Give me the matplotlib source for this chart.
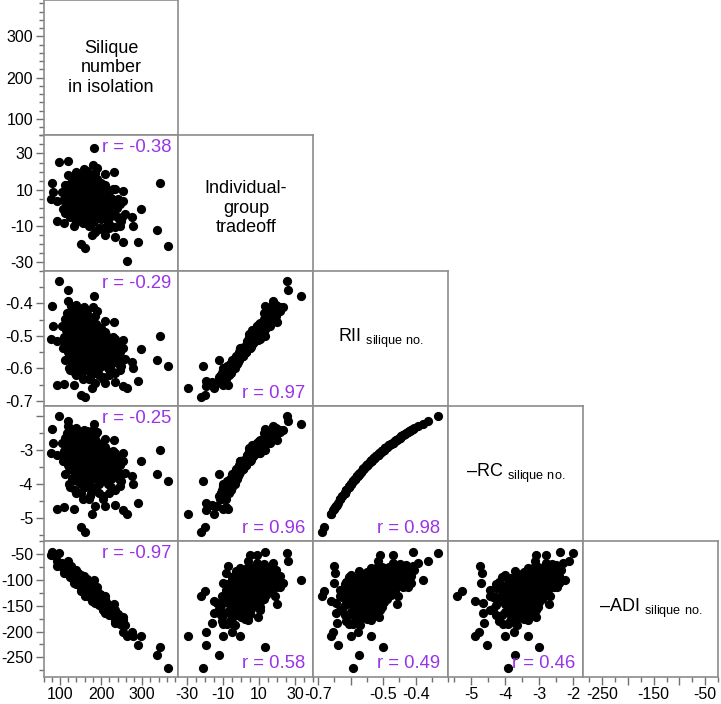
import matplotlib
matplotlib.use("Agg")
import matplotlib.pyplot as plt
from matplotlib.ticker import FixedLocator, FixedFormatter, MultipleLocator

plt.rcParams["font.family"] = ["Liberation Sans", "DejaVu Sans"]
plt.rcParams["mathtext.fontset"] = "custom"
plt.rcParams["mathtext.rm"] = "Liberation Sans"
plt.rcParams["axes.unicode_minus"] = False

# one value per plant (core cloud + visible outliers)
silique = [106, 108, 110, 112, 113, 115, 116, 118, 119, 120, 121, 122, 124, 125, 126, 127, 128, 129, 130, 130,
           131, 132, 133, 134, 135, 136, 137, 138, 139, 140, 141, 142, 143, 144, 145, 146, 147, 148, 149, 150,
           151, 152, 153, 154, 155, 156, 157, 158, 159, 160,
           161, 162, 163, 164, 165, 166, 167, 168, 169, 170, 171, 172, 173, 174, 175, 176, 177, 178, 179, 180,
           181, 182, 183, 184, 185, 186, 187, 188, 189, 190,
           191, 192, 193, 194, 195, 196, 197, 198, 199, 200, 202, 204, 205, 207, 208, 210, 212, 214, 216, 218, 220,
           222, 224, 226, 228, 230, 232, 235, 238, 240, 243, 246, 250, 254,
           138, 145, 152, 158, 163, 167, 171, 175, 179, 183, 187, 193, 197, 203, 148, 156, 162, 170, 176, 185,
           142, 134, 127, 213, 225, 190, 160, 150, 200, 215,
           175, 195, 155, 220, 140, 205, 185, 125, 140, 158, 120,
           112, 117, 123, 128, 133, 137, 141, 146, 151, 154, 157, 161, 164, 168, 172, 174, 178, 181, 184, 188,
           192, 196, 199, 204, 209, 211, 217, 223, 227, 234, 237, 244, 248, 165, 135, 170, 150, 210, 145, 180,
           166, 186, 232, 254,
           182, 97, 119, 80, 82, 78, 93, 343, 298, 335, 363, 262, 93, 109, 150, 162, 290, 253, 234, 210, 177,
           274, 277, 246, 258, 133]

tradeoff = [9.0, -0.4, 5.0, 12.6, -2.7, 8.5, 4.9, 12.6, 0.6, 4.6, -3.2, 10.4, 3.3, 1.4, 17.0, 6.3, 2.9, 5.8, -4.3, 14.7,
            3.3, 9.3, -1.7, 11.1, 0.0, 6.1, -5.2, 3.8, 13.2, 2.7, 8.2, 3.6, -1.1, 4.5, 18.1, 3.2, 7.1, 1.3, 5.2, 10.3,
            -5.3, 4.8, -1.2, 13.1, 8.0, 1.3, -1.9, 10.3, 4.6, 0.2,
            4.0, 7.9, 2.8, 17.2, -1.5, 3.8, 2.5, 13.6, -6.9, 7.7, 2.9, 3.3, -9.5, 12.3, -2.9, 6.2, 3.7, 15.9, -2.7, 10.1,
            -0.1, 4.6, -7.2, 8.1, 2.8, 0.1, 5.5, -4.7, 16.2, 0.0,
            4.8, -1.9, 7.7, 1.0, -4.8, 0.9, 12.8, 0.0, 6.0, -5.0, 5.0, -12.2, 11.3, 0.0, 3.2, -3.2, 2.1, 6.5, -7.6, 5.3, -2.1,
            5.6, -4.6, 0.1, 10.3, -1.5, 1.5, -10.6, -0.2, 5.0, -6.1, 2.2, -4.8, 3.8,
            3.8, 0.0, 6.6, 6.7, 0.6, 10.0, 6.1, 1.5, 7.2, 2.8, 10.2, 3.9, 2.0, 5.1, 11.4, -1.6, 12.0, -4.1, 15.8, -4.7,
            14.2, -1.7, 2.5, 10.7, 5.5, 21.8, -6.4, 17.5, 14.0, -3.2,
            -8.8, -10.8, -8.3, -11.0, -8.0, -11.3, -13.0, -5.0, 19.6, 21.5, 18.0,
            3.4, 8.0, -1.0, 10.2, 6.3, 1.4, -3.2, 7.8, 3.0, -0.5, 15.7, 7.1, -3.3, 6.0, 12.0, -1.0, -7.1, 10.1, 3.7, 14.0,
            -1.9, 8.8, -6.0, 1.0, 12.5, -3.2, 6.5, -9.9, 0.0, 10.4, -4.7, 3.9, -7.4, 18.2, 16.2, -10.2, -6.5, 18.9, 11.6, 23.4,
            20.5, 19.5, 20.0, 9.6,
            33.0, 25.5, 26.0, 13.5, 9.0, 5.0, 4.0, 13.5, -0.5, -12.0, -21.0, -29.0, -7.0, -8.2, -20.0, -22.0, -19.0,
            -19.0, -16.0, -15.0, -15.0, -5.0, -9.7, -9.7, -3.2, -9.7]

rii = [-0.471, -0.538, -0.504, -0.449, -0.575, -0.481, -0.527, -0.429, -0.550, -0.493, -0.600, -0.460, -0.515, -0.563,
       -0.408, -0.481, -0.538, -0.504, -0.587, -0.439,
       -0.527, -0.493, -0.563, -0.471, -0.538, -0.504, -0.613, -0.515, -0.449, -0.550, -0.481, -0.527, -0.575, -0.504,
       -0.418, -0.538, -0.493, -0.563, -0.515, -0.471, -0.600, -0.527, -0.550, -0.460, -0.504, -0.538, -0.587, -0.481,
       -0.515, -0.563,
       -0.527, -0.493, -0.550, -0.439, -0.575, -0.515, -0.538, -0.471, -0.600, -0.504, -0.550, -0.527, -0.626, -0.481,
       -0.563, -0.515, -0.538, -0.449, -0.575, -0.504, -0.550, -0.527, -0.613, -0.493, -0.538, -0.563, -0.515, -0.587,
       -0.471, -0.550,
       -0.527, -0.575, -0.504, -0.550, -0.600, -0.538, -0.481, -0.563, -0.515, -0.587, -0.538, -0.626, -0.493, -0.563,
       -0.527, -0.575, -0.550, -0.515, -0.600, -0.538, -0.563,
       -0.527, -0.587, -0.550, -0.504, -0.575, -0.538, -0.613, -0.563, -0.527, -0.587, -0.550, -0.575, -0.538,
       -0.533, -0.556, -0.498, -0.521, -0.544, -0.487, -0.521, -0.533, -0.509, -0.544, -0.487, -0.533, -0.556, -0.521,
       -0.476, -0.569, -0.465, -0.594, -0.455, -0.581, -0.444, -0.581, -0.533, -0.498, -0.533, -0.423, -0.606, -0.434,
       -0.476, -0.569,
       -0.619, -0.619, -0.633, -0.619, -0.619, -0.633, -0.646, -0.606, -0.404, -0.413, -0.394,
       -0.521, -0.487, -0.556, -0.465, -0.509, -0.544, -0.594, -0.487, -0.533, -0.569, -0.444, -0.498, -0.581, -0.521,
       -0.476, -0.556, -0.606, -0.498, -0.533, -0.465, -0.569, -0.509, -0.594, -0.544, -0.487, -0.581, -0.521, -0.606,
       -0.556, -0.509, -0.581, -0.533, -0.594, -0.434, -0.423, -0.633, -0.619, -0.455, -0.465, -0.413,
       -0.420, -0.439, -0.459, -0.512,
       -0.378, -0.332, -0.361, -0.408, -0.471, -0.510, -0.515, -0.500, -0.539, -0.574, -0.594, -0.660, -0.651, -0.648,
       -0.681, -0.688, -0.639, -0.653, -0.643, -0.646, -0.660, -0.579, -0.600, -0.605, -0.571, -0.650]

neg_rc = [-2.78, -3.33, -3.03, -2.63, -3.70, -2.86, -3.23, -2.50, -3.45, -2.94, -4.00, -2.70, -3.13, -3.57, -2.38, -2.86,
          -3.33, -3.03, -3.85, -2.56,
          -3.23, -2.94, -3.57, -2.78, -3.33, -3.03, -4.17, -3.13, -2.63, -3.45, -2.86, -3.23, -3.70, -3.03, -2.44, -3.33,
          -2.94, -3.57, -3.13, -2.78, -4.00, -3.23, -3.45, -2.70, -3.03, -3.33, -3.85, -2.86, -3.13, -3.57,
          -3.23, -2.94, -3.45, -2.56, -3.70, -3.13, -3.33, -2.78, -4.00, -3.03, -3.45, -3.23, -4.35, -2.86, -3.57, -3.13,
          -3.33, -2.63, -3.70, -3.03, -3.45, -3.23, -4.17, -2.94, -3.33, -3.57, -3.13, -3.85, -2.78, -3.45,
          -3.23, -3.70, -3.03, -3.45, -4.00, -3.33, -2.86, -3.57, -3.13, -3.85, -3.33, -4.35, -2.94, -3.57, -3.23, -3.70,
          -3.45, -3.13, -4.00, -3.33, -3.57,
          -3.23, -3.85, -3.45, -3.03, -3.70, -3.33, -4.17, -3.57, -3.23, -3.85, -3.45, -3.70, -3.33,
          -3.28, -3.51, -2.99, -3.17, -3.39, -2.90, -3.17, -3.28, -3.08, -3.39, -2.90, -3.28, -3.51, -3.17, -2.82, -3.64,
          -2.74, -3.92, -2.67, -3.77, -2.60, -3.77, -3.28, -2.99, -3.28, -2.47, -4.08, -2.53, -2.82, -3.64,
          -4.26, -4.26, -4.44, -4.26, -4.26, -4.44, -4.65, -4.08, -2.35, -2.41, -2.30,
          -3.17, -2.90, -3.51, -2.74, -3.08, -3.39, -3.92, -2.90, -3.28, -3.64, -2.60, -2.99, -3.77, -3.17, -2.82, -3.51,
          -4.08, -2.99, -3.28, -2.74, -3.64, -3.08, -3.92, -3.39, -2.90, -3.77, -3.17, -4.08, -3.51, -3.08, -3.77, -3.28,
          -3.92, -2.53, -2.47, -4.44, -4.26, -2.67, -2.74, -2.41,
          -2.45, -2.56, -2.70, -3.10,
          -2.22, -1.99, -2.13, -2.38, -2.78, -3.08, -3.13, -3.00, -3.33, -3.70, -3.92, -4.88, -4.73, -4.68, -5.26, -5.41,
          -4.55, -4.76, -4.61, -4.65, -4.88, -3.75, -4.00, -4.07, -3.66, -4.72]

neg_adi = [-68, -76, -74, -69, -82, -75, -80, -71, -84, -79, -91, -77, -84, -90, -73, -83, -90, -86, -96, -79,
           -90, -87, -96, -86, -95, -91, -104, -94, -86, -99, -92, -98, -104, -96, -86, -102, -97, -107, -101, -96,
           -113, -105, -109, -97, -104, -109, -116, -103, -108, -115,
           -111, -107, -116, -100, -120, -113, -117, -108, -127, -114, -121, -119, -133, -113, -126, -120, -124, -110,
           -131, -121, -129, -126, -139, -121, -130, -134, -127, -139, -121, -135,
           -132, -140, -129, -138, -146, -137, -128, -143, -135, -148, -141, -157, -135, -149, -144, -153, -151, -146,
           -162, -153, -158,
           -153, -166, -160, -153, -168, -162, -179, -171, -166, -180, -175, -183, -178,
           -96, -104, -101, -108, -115, -109, -117, -122, -121, -129, -122, -134, -141, -139, -95, -113, -103, -127,
           -110, -136, -87, -98, -88, -142, -156, -113, -121, -91, -129, -156,
           -134, -149, -120, -168, -107, -159, -145, -94, -81, -92, -68,
           -77, -77, -88, -81, -90, -97, -105, -96, -105, -112, -97, -107, -121, -115, -111, -124, -134, -120, -128,
           -119, -139, -132, -148, -144, -137, -155, -149, -168, -162, -158, -174, -170, -185, -100, -80, -132, -115,
           -131, -92, -105,
           -98, -113, -146, -172,
           -100, -48, -63, -46, -52, -52, -63, -229, -209, -245, -270, -208, -73, -86, -122, -132, -226, -200, -183,
           -165, -141, -201, -208, -185, -188, -105]

# correlation labels for the lower triangle, row by row
r_values = [[-0.38],
            [-0.29, 0.97],
            [-0.25, 0.96, 0.98],
            [-0.97, 0.58, 0.49, 0.46]]

var_labels = ["Silique\nnumber\nin isolation",
              "Individual-\ngroup\ntradeoff",
              r"RII $_{\mathregular{silique\ no.}}$",
              r"–RC $_{\mathregular{silique\ no.}}$",
              r"–ADI $_{\mathregular{silique\ no.}}$"]

limits = [(60, 388), (-34.5, 40), (-0.715, -0.30), (-5.68, -1.7), (-287, -25)]
major_ticks = [[100, 200, 300], [-30, -10, 10, 30], [-0.7, -0.6, -0.5, -0.4], [-5, -4, -3, -2],
               [-250, -200, -150, -100, -50]]
x_ticklabels = [["100", "200", "300"], ["-30", "-10", "10", "30"], ["-0.7", "", "-0.5", "-0.4"],
                ["-5", "-4", "-3", "-2"], ["-250", "", "-150", "", "-50"]]
y_ticklabels = [["100", "200", "300"], ["-30", "-10", "10", "30"], ["-0.7", "-0.6", "-0.5", "-0.4"],
                ["-5", "-4", "-3", ""], ["-250", "-200", "-150", "-100", "-50"]]
minor_steps = [20, 5, 0.05, 0.5, 25]

columns = [silique, tradeoff, rii, neg_rc, neg_adi]
n = len(columns)

frame_grey = "#8c8c8c"
r_colour = "#9a33e6"

fig = plt.figure(figsize=(7.21, 7.04), dpi=100)

# grid geometry in figure fractions
x0, cw = 43.5 / 721, 134.9 / 721
top, ch = 1.0, 135.3 / 704
y0 = top - n * ch

for i in range(n):
    for j in range(i + 1):
        ax = fig.add_axes([x0 + j * cw, y0 + (n - 1 - i) * ch, cw, ch])
        ax.set_xlim(limits[j])
        ax.set_ylim(limits[i])
        for sp in ax.spines.values():
            sp.set_color(frame_grey)
            sp.set_linewidth(1.2)
        ax.tick_params(which="both", direction="out", color="#707070", width=1.0,
                       labelsize=11.5, pad=1.5)
        ax.tick_params(which="major", length=6)
        ax.tick_params(which="minor", length=3.5)

        if j == 0:
            ax.yaxis.set_major_locator(FixedLocator(major_ticks[i]))
            ax.yaxis.set_major_formatter(FixedFormatter(y_ticklabels[i]))
            ax.yaxis.set_minor_locator(MultipleLocator(minor_steps[i]))
        else:
            ax.set_yticks([])
        if i == n - 1:
            ax.xaxis.set_major_locator(FixedLocator(major_ticks[j]))
            ax.xaxis.set_major_formatter(FixedFormatter(x_ticklabels[j]))
            ax.xaxis.set_minor_locator(MultipleLocator(minor_steps[j]))
        else:
            ax.set_xticks([])

        if i == j:
            ypos = 0.46 if i == 1 else 0.5
            ax.text(0.5, ypos, var_labels[i], transform=ax.transAxes, ha="center", va="center",
                    fontsize=13, linespacing=1.2)
            continue

        ax.scatter(columns[j], columns[i], s=44, c="black", linewidths=0)
        r = r_values[i - 1][j]
        label = f"r = {r:.2f}"
        if r < 0:
            ax.text(0.95, 0.97, label, transform=ax.transAxes, ha="right", va="top",
                    fontsize=13.3, color=r_colour)
        else:
            ax.text(0.94, 0.06, label, transform=ax.transAxes, ha="right", va="baseline",
                    fontsize=13.3, color=r_colour)

fig.savefig("out.png", dpi=100)
